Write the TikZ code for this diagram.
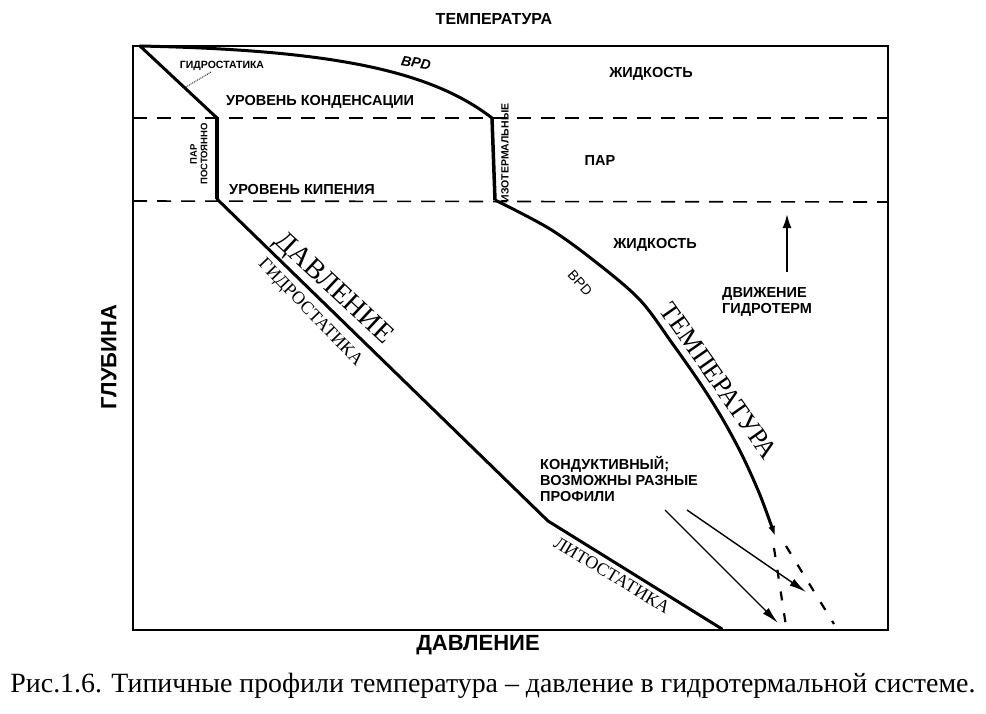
\documentclass[tikz,border=0pt]{standalone}
\usepackage{fontspec}
\setmainfont{Liberation Serif}
\newfontfamily\lsans{Liberation Sans}
\usetikzlibrary{arrows.meta}
\begin{document}
\begin{tikzpicture}[x=1pt,y=-1pt,
  lab/.style={font=\lsans\bfseries\fontsize{14.5}{16}\selectfont, inner sep=0pt},
  biglab/.style={font=\lsans\bfseries\fontsize{22}{24}\selectfont, inner sep=0pt},
  smalllab/.style={font=\lsans\bfseries\fontsize{9.5}{10.5}\selectfont, inner sep=0pt},
  serlab/.style={font=\fontsize{18}{20}\selectfont, inner sep=0pt},
  mainline/.style={line width=3pt, line join=round, line cap=round},
  levelline/.style={line width=1.6pt, dash pattern=on 14pt off 10pt},
  tailline/.style={line width=2.2pt, dash pattern=on 9pt off 13pt},
  thinarrow/.style={line width=1.4pt, -{Latex[length=17pt,width=8pt]}}]
\useasboundingbox (0,0) rectangle (986,713);
\fill[white] (0,0) rectangle (986,713);

% frame
\coordinate (FTL) at (133,46);
\coordinate (FBR) at (888,630);
\draw[line width=2pt] (FTL) rectangle (FBR);

% level lines
\coordinate (CL) at (133,118);
\coordinate (CR) at (888,118);
\coordinate (BL) at (133,201);
\coordinate (BR) at (888,202);
\draw[levelline] (CL) -- (CR);
\draw[levelline] (BL) -- (BR);

% pressure profile
\coordinate (O) at (140,46);
\coordinate (C1) at (217,118);
\coordinate (B1) at (217,199);
\coordinate (K) at (548,521);
\coordinate (L) at (722,629);
\draw[mainline] (O) -- (C1);
\draw[line width=4pt] (C1) -- (B1);
\draw[mainline] (B1) -- (K) -- (L);

% temperature profile
\coordinate (C2) at (492,118);
\coordinate (B2) at (495,200);
\coordinate (TE) at (775,536);
\draw[mainline] (O) .. controls (330,50) and (430,70) .. (C2);
\draw[line width=3.5pt] (C2) -- (B2);
\draw[line width=3pt, -{Latex[length=10pt,width=7pt]}] plot[smooth, tension=0.55] coordinates {(B2) (550,229) (597,263) (640,300) (672,343) (700,383) (722,418) (742,455) (760,495) (TE)};

% dashed continuations
\coordinate (DA1) at (774,548);
\coordinate (DA2) at (786,626);
\coordinate (DB1) at (786,546);
\coordinate (DB2) at (834,624);
\draw[tailline] (DA1) -- (DA2);
\draw[tailline] (DB1) -- (DB2);

% conductive arrows
\coordinate (A1s) at (665,510);
\coordinate (A1e) at (778,623);
\coordinate (A2s) at (687,510);
\coordinate (A2e) at (806,592);
\draw[thinarrow] (A1s) -- (A1e);
\draw[thinarrow] (A2s) -- (A2e);

% movement arrow
\coordinate (M1) at (787,272);
\coordinate (M2) at (787,214);
\draw[line width=2pt, -{Latex[length=14pt,width=9pt]}] (M1) -- (M2);

% hydrostatic leader
\coordinate (H1) at (211,72);
\coordinate (H2) at (186,87);
\draw[line width=0.9pt, densely dotted] (H1) -- (H2);

% axis titles
\node[font=\lsans\bfseries\fontsize{16}{18}\selectfont, inner sep=0pt] (ttop) at (494,19) {ТЕМПЕРАТУРА};
\node[biglab] (tbot) at (478,645) {ДАВЛЕНИЕ};
\node[biglab, rotate=90] (tleft) at (109,357) {ГЛУБИНА};

% labels
\node[font=\lsans\bfseries\fontsize{10.5}{12}\selectfont, inner sep=0pt] (lhyd) at (222,66) {ГИДРОСТАТИКА};
\node[font=\lsans\bfseries\itshape\fontsize{14}{16}\selectfont, inner sep=0pt, rotate=-10] (lbpd1) at (416,63) {ВРD};
\node[lab] (lcond) at (320,102) {УРОВЕНЬ КОНДЕНСАЦИИ};
\node[lab] (lliq1) at (651,74) {ЖИДКОСТЬ};
\node[lab] (lvap) at (600,161) {ПАР};
\node[lab] (lboil) at (302,190) {УРОВЕНЬ КИПЕНИЯ};
\node[smalllab, rotate=90, align=center] (lconst) at (199,154) {ПАР\\ПОСТОЯННО};
\node[font=\lsans\bfseries\fontsize{10.5}{12}\selectfont, inner sep=0pt, rotate=90] (liso) at (505,153) {ИЗОТЕРМАЛЬНЫЕ};
\node[lab] (lliq2) at (655,245) {ЖИДКОСТЬ};
\node[font=\lsans\fontsize{14}{16}\selectfont, inner sep=0pt, rotate=-48] (lbpd2) at (580,283) {ВРD};
\node[lab, anchor=north west, align=left] (lmove) at (722,287) {ДВИЖЕНИЕ\\ГИДРОТЕРМ};
\node[lab, anchor=north west, align=left] (lcondu) at (540,456) {КОНДУКТИВНЫЙ;\\ВОЗМОЖНЫ РАЗНЫЕ\\ПРОФИЛИ};

% serif profile labels
\node[font=\fontsize{28}{30}\selectfont, inner sep=0pt, rotate=-43] (lpress) at (333,289) {ДАВЛЕНИЕ};
\node[serlab, rotate=-46] (lhyd2) at (310,313) {ГИДРОСТАТИКА};
\node[font=\fontsize{26.5}{30}\selectfont, inner sep=0pt, rotate=-55] (ltemp) at (719,381) {ТЕМПЕРАТУРА};
\node[serlab, rotate=-31] (llith) at (612,575) {ЛИТОСТАТИКА};

% caption
\node[inner sep=0pt] (cap) at (493,686) {\resizebox{965pt}{!}{\fontsize{27}{30}\selectfont Рис.1.6. Типичные профили температура – давление в гидротермальной системе.}};
\end{tikzpicture}
\end{document}
